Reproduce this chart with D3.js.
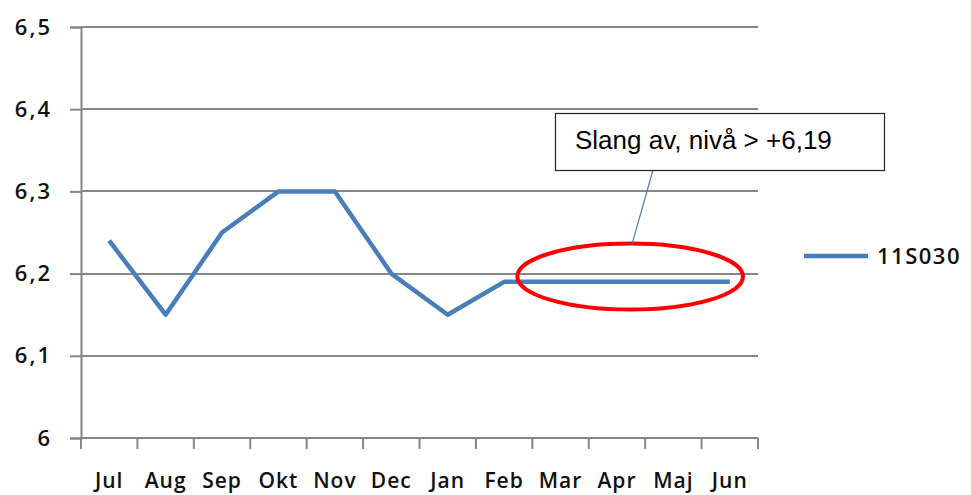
<!DOCTYPE html>
<html>
<head>
<meta charset="utf-8">
<script src="https://cdn.jsdelivr.net/npm/d3@7"></script>
<style>
  body { margin: 0; background: #fff; }
  svg { display: block; }
</style>
</head>
<body>
<div id="chart"></div>
<script>
// months and levels
var months = ["Jul", "Aug", "Sep", "Okt", "Nov", "Dec", "Jan", "Feb", "Mar", "Apr", "Maj", "Jun"];
var levels = [6.24, 6.15, 6.25, 6.30, 6.30, 6.20, 6.15, 6.19, 6.19, 6.19, 6.19, 6.19];
var yTicks = [6, 6.1, 6.2, 6.3, 6.4, 6.5];
var seriesName = "11S030";
var noteText = "Slang av, nivå > +6,19";
var highlightMonths = ["Mar", "Jun"];

var width = 971, height = 495;
var mLeft = 81, mRight = 758, mTop = 27, mBottom = 438;
var axisColor = "#868686", lineColor = "#4a7ebb";
var labelFont = "'Open Sans', Lato, sans-serif";

var svg = d3.select("#chart").append("svg")
  .attr("width", width)
  .attr("height", height);

var x = d3.scaleBand().domain(months).range([mLeft, mRight]);
var y = d3.scaleLinear().domain([6, 6.5]).range([mBottom, mTop]);
var fmt = function(d){ return d3.format(".1~f")(d).replace(".", ","); };

// gridlines
svg.append("g").selectAll("line")
  .data(yTicks.slice(1))
  .enter().append("line")
  .attr("x1", mLeft).attr("x2", mRight)
  .attr("y1", function(d){ return Math.round(y(d)); })
  .attr("y2", function(d){ return Math.round(y(d)); })
  .attr("stroke", axisColor).attr("stroke-width", 2);

// y axis
var yAxis = svg.append("g")
  .attr("transform", "translate(" + mLeft + ",0)")
  .call(d3.axisLeft(y).tickValues(yTicks).tickSize(11).tickPadding(18).tickFormat(fmt));
yAxis.select(".domain").attr("stroke", axisColor).attr("stroke-width", 2);
yAxis.selectAll(".tick line").attr("stroke", axisColor).attr("stroke-width", 2);
yAxis.selectAll("text")
  .attr("font-family", labelFont).attr("font-size", 22).attr("font-weight", 600)
  .attr("letter-spacing", 2).attr("fill", "#111");

// x axis, ticks on band edges
var xAxis = svg.append("g")
  .attr("transform", "translate(0," + mBottom + ")");
xAxis.append("line")
  .attr("x1", mLeft).attr("x2", mRight).attr("y1", 0).attr("y2", 0)
  .attr("stroke", axisColor).attr("stroke-width", 2);
xAxis.selectAll(".edge")
  .data(months.concat(["end"]))
  .enter().append("line")
  .attr("class", "edge")
  .attr("x1", function(d, i){ return i < months.length ? x(d) : x(months[months.length-1]) + x.bandwidth(); })
  .attr("x2", function(d, i){ return i < months.length ? x(d) : x(months[months.length-1]) + x.bandwidth(); })
  .attr("y1", 0).attr("y2", 11)
  .attr("stroke", axisColor).attr("stroke-width", 2);
xAxis.selectAll("text")
  .data(months)
  .enter().append("text")
  .attr("x", function(d){ return x(d) + x.bandwidth() / 2; })
  .attr("y", 50)
  .attr("text-anchor", "middle")
  .attr("font-family", labelFont).attr("font-size", 21).attr("font-weight", 600)
  .attr("letter-spacing", 1).attr("fill", "#111")
  .text(function(d){ return d; });

// data line
var line = d3.line()
  .x(function(d, i){ return x(months[i]) + x.bandwidth() / 2; })
  .y(function(d){ return y(d); });
svg.append("path")
  .datum(levels)
  .attr("d", line)
  .attr("fill", "none")
  .attr("stroke", lineColor)
  .attr("stroke-width", 4.5)
  .attr("stroke-linejoin", "round");

// legend
svg.append("line")
  .attr("x1", 804).attr("x2", 868).attr("y1", 256).attr("y2", 256)
  .attr("stroke", lineColor).attr("stroke-width", 4.5);
svg.append("text")
  .attr("x", 877).attr("y", 264)
  .attr("font-family", labelFont).attr("font-size", 22).attr("font-weight", 600)
  .attr("letter-spacing", 1.5).attr("fill", "#111")
  .text(seriesName);

// highlight ellipse around the flat stretch
var hx1 = x(highlightMonths[0]), hx2 = x(highlightMonths[1]) + x.bandwidth();
var ecx = (hx1 + hx2) / 2 - 15, ecy = y(6.2) + 3;
svg.append("ellipse")
  .attr("cx", ecx).attr("cy", ecy)
  .attr("rx", (hx2 - hx1) / 2).attr("ry", 33)
  .attr("fill", "none").attr("stroke", "#ff0000").attr("stroke-width", 4);

// callout
svg.append("line")
  .attr("x1", 653).attr("y1", 170).attr("x2", ecx + 2).attr("y2", ecy - 33)
  .attr("stroke", lineColor).attr("stroke-width", 1.2);
svg.append("rect")
  .attr("x", 555.5).attr("y", 113.5).attr("width", 329).attr("height", 57)
  .attr("fill", "#fff").attr("stroke", "#222").attr("stroke-width", 1.2);
svg.append("text")
  .attr("x", 575).attr("y", 149)
  .attr("font-family", "'Liberation Sans', Arial, sans-serif").attr("font-size", 26).attr("fill", "#000")
  .text(noteText);
</script>
</body>
</html>
